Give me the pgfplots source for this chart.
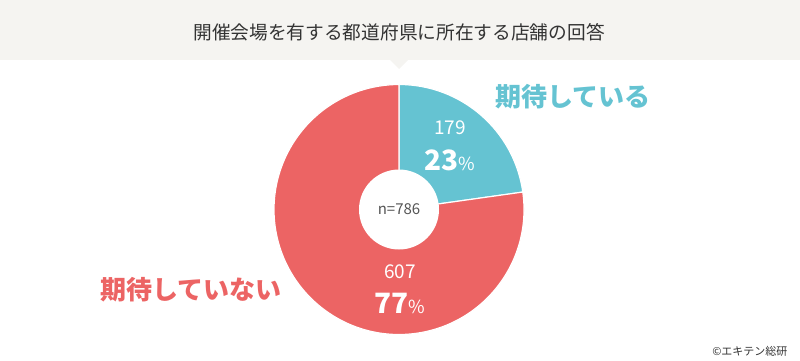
\documentclass[border=0pt]{standalone}
\usepackage{pgfplots}
\usepackage{pgfplotstable}
\pgfplotsset{compat=1.18}
\usepackage{fontspec}
\setmainfont{Noto Sans CJK JP}
\definecolor{tealc}{HTML}{65C3D2}
\definecolor{redc}{HTML}{EC6464}
\definecolor{headbg}{HTML}{F5F4F1}
\definecolor{titlec}{HTML}{333333}
\definecolor{nc}{HTML}{555555}
\newcommand{\fs}[1]{\fontsize{#1bp}{#1bp}\selectfont}
\pgfplotstableread{
label value
yes 179
no 607
}\datatable
\pgfplotstablegetelem{0}{value}\of\datatable \let\va\pgfplotsretval
\pgfplotstablegetelem{1}{value}\of\datatable \let\vb\pgfplotsretval
\pgfmathsetmacro\fracA{\va/(\va+\vb)}
\pgfmathsetmacro\angA{360*\fracA}
\pgfmathsetmacro\endA{90-\angA}
\begin{document}
\begin{tikzpicture}
\begin{axis}[x=1bp,y=1bp,xmin=0,xmax=800,ymin=0,ymax=360,hide axis,clip=false,
  scale only axis]
\path (axis cs:0,0) rectangle (axis cs:800,360);
% header
\fill[headbg] (axis cs:0,300) rectangle (axis cs:800,360);
\fill[headbg] (axis cs:390,300) -- (axis cs:408,300) -- (axis cs:399,291) -- cycle;
\node[text=titlec] at (axis cs:399,328) {\fs{18.7}開催会場を有する都道府県に所在する店舗の回答};
% pie
\fill[tealc,draw=white,line width=1.2bp] (axis cs:399,150.5) -- ++(90:125bp) arc[start angle=90,end angle=\endA,radius=125bp] -- cycle;
\fill[redc,draw=white,line width=1.2bp] (axis cs:399,150.5) -- ++(\endA:125bp) arc[start angle=\endA,end angle=-270,radius=125bp] -- cycle;
\fill[white] (axis cs:399,150.5) circle[radius=40bp];
\node[text=nc] at (axis cs:399,150.5) {\fs{15}n=786};
% slice labels
\node[text=white] at (axis cs:450,232) {\fs{19}179};
\node[text=white] at (axis cs:450,200) {\fs{28}\bfseries 23{\fs{18}\mdseries\%}};
\node[text=white] at (axis cs:400,88) {\fs{19}607};
\node[text=white] at (axis cs:400,57) {\fs{28}\bfseries 77{\fs{18}\mdseries\%}};
% category labels
\node[text=tealc] at (axis cs:573,263) {\fs{26}\bfseries 期待している};
\node[text=redc] at (axis cs:191,70) {\fs{26}\bfseries 期待していない};
\node[text=titlec,anchor=east] at (axis cs:791,9) {\fs{11}©エキテン総研};
\end{axis}
\end{tikzpicture}
\end{document}
